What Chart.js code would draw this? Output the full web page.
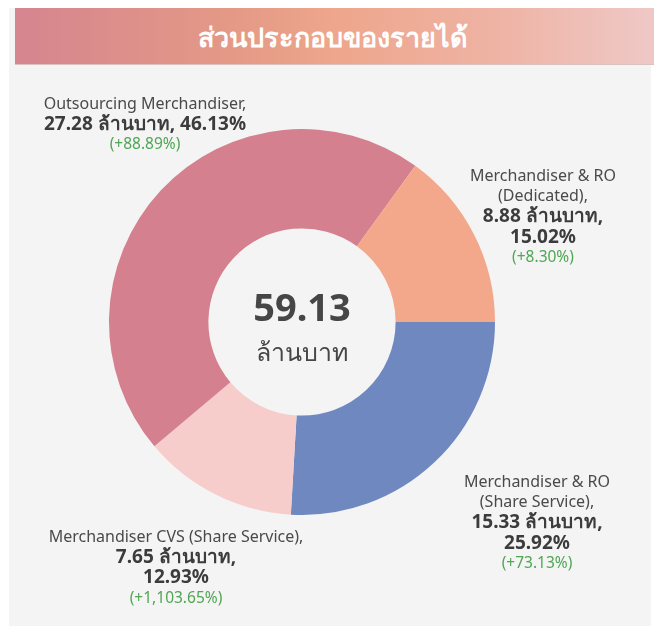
<!DOCTYPE html>
<html>
<head>
<meta charset="utf-8">
<script src="https://cdn.jsdelivr.net/npm/chart.js@4/dist/chart.umd.min.js"></script>
<style>
  html, body { margin: 0; padding: 0; background: #ffffff; width: 654px; height: 626px; overflow: hidden; }
  #panel { position: absolute; left: 9px; top: 8px; width: 642px; height: 618px; background: #f4f4f4; }
  #header { position: absolute; left: 15px; top: 8px; width: 639px; height: 57px;
    background: linear-gradient(to right, #d5858f 0%, #e49a86 35%, #eea68c 50%, #eeb3a4 75%, #efc8c6 100%);
    border-bottom: 1px solid #d9c2c2;
    color: #ffffff; font-family: "Noto Sans", "DejaVu Sans", sans-serif; font-size: 27px; font-weight: 600;
    text-align: center; line-height: 57px; padding-right: 4px; box-sizing: border-box; }
  #wrap { position: absolute; left: 9px; top: 66px; width: 642px; height: 560px; }
</style>
</head>
<body>
<div id="panel"></div>
<div id="header">ส่วนประกอบของรายได้</div>
<div id="wrap"><canvas id="c" width="642" height="560"></canvas></div>
<script>
const categories = ['Merchandiser & RO (Share Service)', 'Merchandiser CVS (Share Service)', 'Outsourcing Merchandiser', 'Merchandiser & RO (Dedicated)'];
const valuesMB = [15.33, 7.65, 27.28, 8.88];
const sharePct = [25.92, 12.93, 46.13, 15.02];
const growthPct = ['+73.13%', '+1,103.65%', '+88.89%', '+8.30%'];
const totalMB = 59.13;
const unit = 'ล้านบาท';
const colors = ['#6f88c0', '#f6cdcb', '#d5808e', '#f3a88b'];

// label layout: name lines, value/share lines, anchor (canvas coords)
const labelLayout = [
  { name: ['Merchandiser & RO', '(Share Service),'], split: true, x: 528, y: 416 },
  { name: ['Merchandiser CVS (Share Service),'], split: true, x: 167, y: 471 },
  { name: ['Outsourcing Merchandiser,'], split: false, x: 136, y: 38 },
  { name: ['Merchandiser & RO', '(Dedicated),'], split: true, x: 534, y: 110 }
];

const FONT = '"Noto Sans", "DejaVu Sans", sans-serif';
const labelPlugin = {
  id: 'labels',
  afterDraw(chart) {
    const ctx = chart.ctx;
    ctx.save();
    ctx.textAlign = 'center';
    ctx.textBaseline = 'middle';
    categories.forEach((cat, i) => {
      const L = labelLayout[i];
      let y = L.y;
      const lh = 20.5;
      ctx.fillStyle = '#4a4a4a';
      ctx.font = '400 16px ' + FONT;
      L.name.forEach(t => { ctx.fillText(t, L.x, y); y += lh; });
      ctx.fillStyle = '#3c3c3c';
      ctx.font = '700 19px ' + FONT;
      const v = valuesMB[i].toFixed(2) + ' ' + unit + ',';
      const s = sharePct[i].toFixed(2) + '%';
      if (L.split) {
        ctx.fillText(v, L.x, y); y += lh;
        ctx.fillText(s, L.x, y); y += lh;
      } else {
        ctx.fillText(v + ' ' + s, L.x, y); y += lh;
      }
      ctx.fillStyle = '#4fa653';
      ctx.font = '400 15.5px ' + FONT;
      ctx.fillText('(' + growthPct[i] + ')', L.x, y);
    });
    // center text
    const m = chart.getDatasetMeta(0).data[0];
    ctx.fillStyle = '#464646';
    ctx.font = '700 38px ' + FONT;
    ctx.fillText(totalMB.toFixed(2), m.x, m.y - 12);
    ctx.font = '400 25px ' + FONT;
    ctx.fillText(unit, m.x, m.y + 32);
    ctx.restore();
  }
};

new Chart(document.getElementById('c'), {
  type: 'doughnut',
  data: {
    labels: categories,
    datasets: [{ data: valuesMB, backgroundColor: colors, borderWidth: 0 }]
  },
  options: {
    responsive: false,
    animation: false,
    rotation: 90,
    cutout: '48.5%',
    layout: { padding: { left: 100, right: 156, top: 63, bottom: 111 } },
    plugins: { legend: { display: false }, tooltip: { enabled: false } }
  },
  plugins: [labelPlugin]
});
</script>
</body>
</html>
